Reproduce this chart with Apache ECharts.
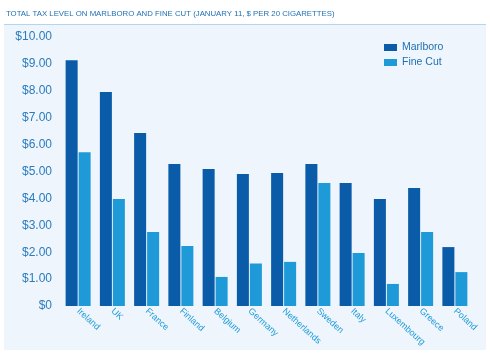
<!DOCTYPE html>
<html><head><meta charset="utf-8">
<script src="https://cdn.jsdelivr.net/npm/echarts@6/dist/echarts.min.js"></script>
<style>html,body{margin:0;padding:0;background:#fff}#c{width:490px;height:355px}</style>
</head><body><div id="c"></div>
<script>
const titleText = "TOTAL TAX LEVEL ON MARLBORO AND FINE CUT (JANUARY 11, $ PER 20 CIGARETTES)";
const categories = ["Ireland","UK","France","Finland","Belgium","Germany","Netherlands","Sweden","Italy","Luxembourg","Greece","Poland"];
const marlboro = [9.14,7.96,6.43,5.28,5.09,4.91,4.94,5.28,4.57,3.98,4.39,2.19];
const fineCut = [5.72,3.98,2.75,2.23,1.08,1.58,1.64,4.57,1.97,0.82,2.75,1.26];
const seriesNames = ["Marlboro","Fine Cut"];
const yMin = 0, yMax = 10, yStep = 1;

const chart = echarts.init(document.getElementById('c'), null, {renderer:'canvas'});
chart.setOption({
  animation:false,
  backgroundColor:'#ffffff',
  textStyle:{fontFamily:'Liberation Sans, Arial, sans-serif'},
  graphic:[
    {type:'rect', z:-10, shape:{x:4,y:25,width:482,height:325}, style:{fill:'#eef5fc'}},
    {type:'line', z:-9, shape:{x1:4,y1:24.5,x2:486,y2:24.5}, style:{stroke:'#b3d5ef',lineWidth:1}},
    {type:'text', left:6, top:10, style:{text:titleText, fill:'#1f6fb2', font:'7.8px "Liberation Sans", Arial, sans-serif'}}
  ],
  legend:{
    orient:'vertical', left:379, top:37, itemWidth:13, itemHeight:7, itemGap:4,
    textStyle:{color:'#1f6fb2', fontSize:10.5},
    data:seriesNames, icon:'rect'
  },
  grid:{left:61, right:18, top:37, bottom:49, containLabel:false},
  xAxis:{
    type:'category', data:categories,
    axisLine:{show:false}, axisTick:{show:false},
    axisLabel:{rotate:-42, color:'#1e9ad8', fontSize:9, margin:4, interval:0}
  },
  yAxis:{
    type:'value', min:yMin, max:yMax, interval:yStep,
    splitLine:{show:false}, axisLine:{show:false}, axisTick:{show:false},
    axisLabel:{color:'#2b7bbd', fontSize:12, margin:9, formatter:v=> v===0?'$0':'$'+v.toFixed(2)}
  },
  series:[
    {name:seriesNames[0], type:'bar', data:marlboro, itemStyle:{color:'#0a5ca8'}, barGap:'8%', barCategoryGap:'27%'},
    {name:seriesNames[1], type:'bar', data:fineCut, itemStyle:{color:'#1f9ad8'}}
  ]
});
</script></body></html>
